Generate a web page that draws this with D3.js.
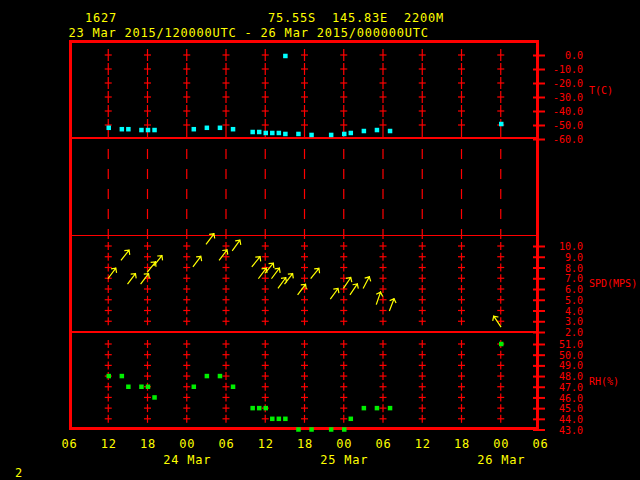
<!DOCTYPE html>
<html><head><meta charset="utf-8">
<script src="https://cdn.jsdelivr.net/npm/d3@7"></script>
<style>
html,body{margin:0;padding:0;background:#000;}
svg{display:block;}
text{font-family:"DejaVu Sans Mono","Liberation Mono",monospace;}
</style></head>
<body>
<svg id="c" width="640" height="480"></svg>
<script>
// ---------------- DATA ----------------
const obsTimes = ["2015-03-23T12","2015-03-23T14","2015-03-23T15","2015-03-23T17","2015-03-23T18","2015-03-23T19",
  "2015-03-24T01","2015-03-24T03","2015-03-24T05","2015-03-24T07","2015-03-24T10","2015-03-24T11",
  "2015-03-24T12","2015-03-24T13","2015-03-24T14","2015-03-24T15","2015-03-24T17","2015-03-24T19",
  "2015-03-24T22","2015-03-25T00","2015-03-25T01","2015-03-25T03","2015-03-25T05","2015-03-25T07",
  "2015-03-26T00"];
const tempC = [-52,-53,-53,-53.6,-53.6,-53.6,-53,-52,-52,-53,-55,-55,-55.7,-55.7,-55.7,-56.4,-56.4,-57.1,
  -57.1,-56.4,-55.7,-54.3,-53.6,-54.3,-49.3];
const tempExtraTime = ["2015-03-24T15"];
const tempExtra = [-0.7];
const windSpd = [7.0,8.7,6.5,6.5,7.6,8.2,8.1,10.2,8.7,9.6,8.1,7.0,7.5,7.0,6.1,6.5,5.5,7.0,5.1,6.1,5.5,6.1,4.6,4.0,2.5];
const windDir = [217,218,217,217,219,219,217,217,217,216,219,217,220,217,216,218,217,219,216,214,214,208,199,201,146];
const relHum = [48,48,47,47,47,46,47,48,48,47,45,45,45,44,44,44,43,43,43,43,44,45,45,45,51];
const tTicks = [0,-10,-20,-30,-40,-50,-60];
const spdTicks = [10,9,8,7,6,5,4,3,2];
const rhTicks = [51,50,49,48,47,46,45,44,43];
const headerLine1a = "1627";
const headerLine1b = "75.55S  145.83E  2200M";
const headerLine2 = "23 Mar 2015/120000UTC - 26 Mar 2015/000000UTC";
const footer = "2";

// ---------------- SETUP ----------------
const parse = d3.utcParse("%Y-%m-%dT%H");
const svg = d3.select("#c");
const RED = "#ff0000", YEL = "#ffff00", CYAN = "#00ffff", GRN = "#00f000";
const FS_BIG = "12px", LS_BIG = "0.78px", FS_SM = "10px";

svg.append("rect").attr("width",640).attr("height",480).attr("fill","#000");

const x = d3.scaleUtc()
  .domain([Date.UTC(2015,2,23,6), Date.UTC(2015,2,26,6)])
  .range([69, 540]);
const yT = d3.scaleLinear().domain([0,-60]).range([55,139]);
const yS = d3.scaleLinear().domain([2,10]).range([332,246]);
const yR = d3.scaleLinear().domain([43,51]).range([429.5,344]);

const gridTimes = d3.utcHour.every(6).range(Date.UTC(2015,2,23,12), Date.UTC(2015,2,26,1));

// ---------------- GRID ----------------
const grid = svg.append("g").attr("stroke", RED).attr("stroke-width", 1.2).attr("fill","none");
function crosses(scale, ticks, hv, hh) {
  gridTimes.forEach(t => {
    const gx = x(t);
    ticks.forEach(v => {
      const gy = scale(v);
      grid.append("line").attr("x1",gx).attr("x2",gx).attr("y1",gy-hv).attr("y2",gy+hv);
      grid.append("line").attr("x1",gx-hh).attr("x2",gx+hh).attr("y1",gy).attr("y2",gy);
    });
  });
}
crosses(yT, [0,-10,-20,-30,-40,-50], 6, 3.5);
crosses(yS, [10,9,8,7,6,5,4,3], 4, 3.5);
crosses(yR, [51,50,49,48,47,46,45,44], 4, 3.5);
gridTimes.forEach(t => {
  const gx = x(t);
  grid.append("line").attr("x1",gx).attr("x2",gx).attr("y1",149).attr("y2",240)
    .attr("stroke-dasharray","10,10");
  grid.append("line").attr("x1",gx).attr("x2",gx).attr("y1",131).attr("y2",138);
});

// ---------------- FRAME ----------------
svg.append("rect").attr("x",70.5).attr("y",41.5).attr("width",467).attr("height",387)
  .attr("fill","none").attr("stroke",RED).attr("stroke-width",3);
svg.append("line").attr("x1",70).attr("x2",538).attr("y1",138).attr("y2",138).attr("stroke",RED).attr("stroke-width",2);
svg.append("line").attr("x1",70).attr("x2",538).attr("y1",332).attr("y2",332).attr("stroke",RED).attr("stroke-width",2);
svg.append("line").attr("x1",70).attr("x2",538).attr("y1",235.5).attr("y2",235.5).attr("stroke",RED).attr("stroke-width",1);

// ---------------- RIGHT AXES ----------------
function rightAxis(scale, ticks, label, ly) {
  const g = svg.append("g").attr("transform","translate(533,0)")
    .call(d3.axisRight(scale).tickValues(ticks).tickSize(12).tickFormat(v => v.toFixed(1)));
  g.select(".domain").remove();
  g.selectAll(".tick line").attr("stroke",RED).attr("stroke-width",2);
  g.selectAll(".tick text").attr("fill",RED).attr("x",50).attr("text-anchor","end")
    .attr("dy","0.36em").style("font-size",FS_SM).style("font-family",'"DejaVu Sans Mono",monospace');
  svg.append("text").attr("x",589).attr("y",ly).attr("dy","0.36em").attr("fill",RED)
    .style("font-size",FS_SM).text(label);
}
rightAxis(yT, tTicks, "T(C)", 90);
rightAxis(yS, spdTicks, "SPD(MPS)", 283);
rightAxis(yR, rhTicks, "RH(%)", 381);

// ---------------- BOTTOM AXES ----------------
const ax1 = svg.append("g").call(d3.axisBottom(x).ticks(d3.utcHour.every(6)).tickSize(0).tickFormat(d3.utcFormat("%H")));
ax1.select(".domain").remove();
ax1.selectAll(".tick text").attr("y",448).attr("dy",null).attr("fill",YEL)
  .style("font-size",FS_BIG).style("letter-spacing",LS_BIG).style("font-family",'"DejaVu Sans Mono",monospace');
const ax2 = svg.append("g").call(d3.axisBottom(x).ticks(d3.utcDay.every(1)).tickSize(0).tickFormat(d3.utcFormat("%d %b")));
ax2.select(".domain").remove();
ax2.selectAll(".tick").filter(d => +d === Date.UTC(2015,2,23)).remove();
ax2.selectAll(".tick text").attr("y",464).attr("dy",null).attr("fill",YEL)
  .style("font-size",FS_BIG).style("letter-spacing",LS_BIG).style("font-family",'"DejaVu Sans Mono",monospace');

// ---------------- HEADER ----------------
function hdr(tx, ty, s) {
  return svg.append("text").attr("x",tx).attr("y",ty).attr("fill",YEL)
    .style("font-size",FS_BIG).style("letter-spacing",LS_BIG)
    .style("white-space","pre").attr("xml:space","preserve").text(s);
}
hdr(85, 22, headerLine1a);
hdr(268, 22, headerLine1b);
hdr(68.5, 36.5, headerLine2);
hdr(15, 477, footer);

// ---------------- MARKS ----------------
const times = obsTimes.map(parse);
const sq = 4.5;
svg.append("g").selectAll("rect").data(times.map((t,i)=>({t, v:tempC[i]}))
    .concat(tempExtraTime.map((t,i)=>({t:parse(t), v:tempExtra[i]}))))
  .join("rect").attr("x",d=>x(d.t)-sq/2+0.5).attr("y",d=>yT(d.v)-sq/2).attr("width",sq).attr("height",sq).attr("fill",CYAN);

svg.append("g").selectAll("rect").data(times.map((t,i)=>({t, v:relHum[i]})))
  .join("rect").attr("x",d=>x(d.t)-sq/2+0.5).attr("y",d=>yR(d.v)-sq/2).attr("width",sq).attr("height",sq).attr("fill",GRN);

// wind arrows: tail at (time, speed), pointing toward where the wind blows
const L = 12.6, HL = 4.2;
const ag = svg.append("g").attr("stroke",YEL).attr("stroke-width",1.2).attr("fill","none").attr("stroke-linecap","square");
times.forEach((t,i) => {
  const x0 = x(t), y0 = yS(windSpd[i]);
  const a = (windDir[i] + 180) * Math.PI/180;
  const x1 = x0 + L*Math.sin(a), y1 = y0 - L*Math.cos(a);
  const back = a + Math.PI;
  const b1 = back - 0.8, b2 = back + 0.8;
  ag.append("path").attr("d",
    `M${x0},${y0}L${x1},${y1}` +
    `M${x1 + HL*Math.sin(b1)},${y1 - HL*Math.cos(b1)}L${x1},${y1}L${x1 + HL*Math.sin(b2)},${y1 - HL*Math.cos(b2)}`);
});
</script>
</body></html>
